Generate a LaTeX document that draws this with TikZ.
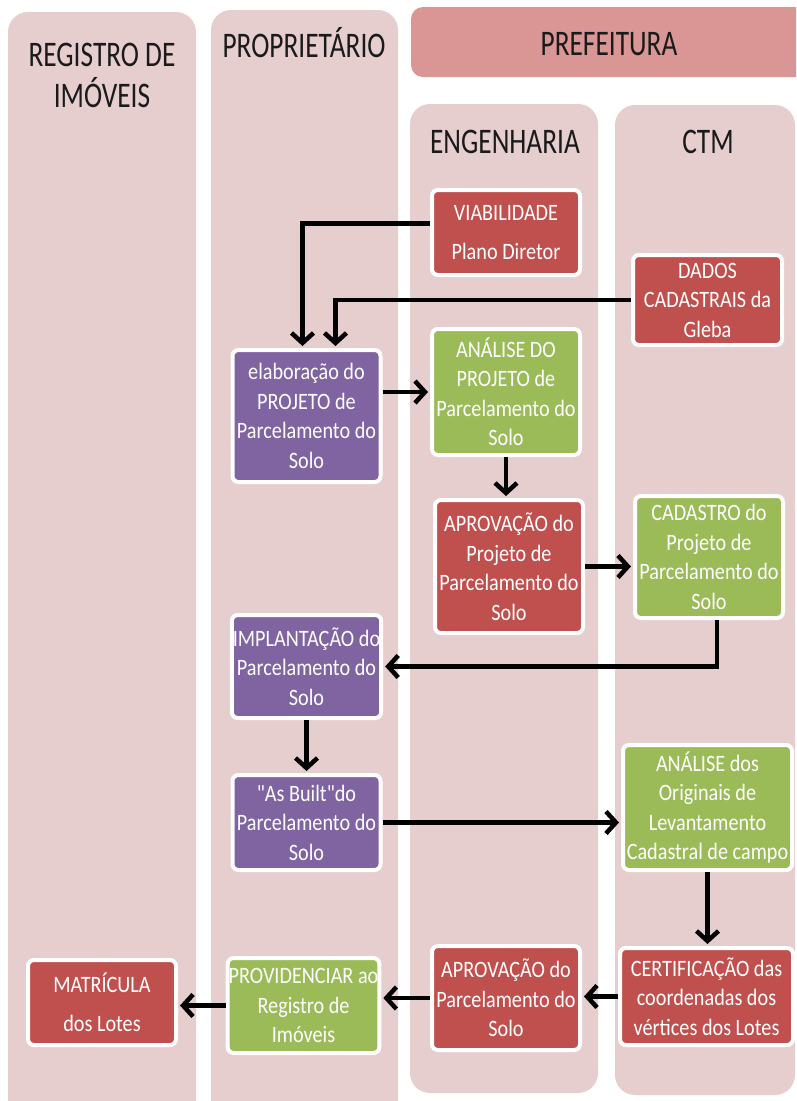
\documentclass[tikz,border=0pt]{standalone}
\usepackage{fontspec}
\setmainfont{Carlito}[FakeStretch=0.86, Ligatures=TeXOff]
\newfontfamily\lanefont{Carlito}[FakeStretch=0.76]
\usepackage{xcolor}
\usetikzlibrary{
    arrows.meta,
    positioning
}

\definecolor{lanepink}{HTML}{E6CECF}
\definecolor{headpink}{HTML}{D99694}
\definecolor{boxred}{HTML}{C0504D}
\definecolor{boxgreen}{HTML}{9BBB59}
\definecolor{boxpurple}{HTML}{8064A2}
\definecolor{headtext}{HTML}{1A1A1A}

\begin{document}
\begin{tikzpicture}[
        x=1pt, y=-1pt,
        lane/.style={
            fill=lanepink,
            rounded corners=20pt
        },
        lanehead/.style={
            text=headtext,
            align=center,
            anchor=base,
            font=\lanefont\fontsize{36}{41}\selectfont
        },
        block/.style={
            rectangle,
            rounded corners=6pt,
            draw=white,
            line width=4pt,
            align=center,
            text=white,
            inner sep=1pt,
            minimum width=148pt,
            font=\fontsize{23.5}{29.5}\selectfont
        },
        redblock/.style={block, fill=boxred},
        greenblock/.style={block, fill=boxgreen},
        purpleblock/.style={block, fill=boxpurple},
        line/.style={
            -{Straight Barb[length=10pt,width=22pt]},
            line width=4.5pt,
            shorten >=2pt
        }
    ]

    \useasboundingbox (0,0) rectangle (796,1101);
    \clip (0,0) rectangle (796,1101);

    % swimlanes
    \fill[lane] (8,12) rectangle (196,1125);
    \fill[lane] (211,10) rectangle (398,1125);
    \fill[headpink, rounded corners=12pt] (411,7) rectangle (830,77);
    \fill[lane] (410,104) rectangle (598,1093);
    \fill[lane] (615,105) rectangle (795,1095);

    \node[lanehead] (registro) at (102,107) {REGISTRO DE\\IMÓVEIS};
    \node[lanehead] (proprietario) at (304,57) {PROPRIETÁRIO};
    \node[lanehead] (prefeitura) at (609,55) {PREFEITURA};
    \node[lanehead] (engenharia) at (505,153) {ENGENHARIA};
    \node[lanehead] (ctm) at (708,153) {CTM};

    % steps
    \node[redblock, minimum height=85pt] (viab) at (506,232.5)
        {VIABILIDADE\\[10pt]Plano Diretor};
    \node[redblock, minimum height=90pt, minimum width=149pt] (dados) at (707.5,300)
        {DADOS\\CADASTRAIS da\\Gleba};
    \node[purpleblock, minimum height=132pt] (elab) at (306.5,416)
        {elaboração do\\PROJETO de\\Parcelamento do\\Solo};
    \node[greenblock, minimum height=126pt] (anal) at (506,392)
        {ANÁLISE DO\\PROJETO de\\Parcelamento do\\Solo};
    \node[redblock, minimum height=133pt] (aprovproj) at (509,566.5)
        {APROVAÇÃO do\\Projeto de\\Parcelamento do\\Solo};
    \node[greenblock, minimum height=122pt] (cadastro) at (709,557)
        {CADASTRO do\\Projeto de\\Parcelamento do\\Solo};
    \node[purpleblock, minimum height=103pt] (implant) at (306.5,666.5)
        {IMPLANTAÇÃO do\\Parcelamento do\\Solo};
    \node[purpleblock, minimum height=95pt, below=53pt of implant] (asbuilt)
        {"As Built"do\\Parcelamento do\\Solo};
    \node[greenblock, minimum height=125pt, minimum width=169pt] (originais) at (707.5,807.5)
        {ANÁLISE dos\\Originais de\\Levantamento\\Cadastral de campo};
    \node[redblock, minimum height=97pt, minimum width=173pt] (certif) at (706.5,996.5)
        {CERTIFICAÇÃO das\\coordenadas dos\\vértices dos Lotes};
    \node[redblock, minimum height=104pt] (aprovparc) at (506,998)
        {APROVAÇÃO do\\Parcelamento do\\Solo};
    \node[greenblock, minimum height=95pt] (provid) at (303.5,1005.5)
        {PROVIDENCIAR ao\\Registro de\\Imóveis};
    \node[redblock, minimum height=85pt] (matric) at (102,1002.5)
        {MATRÍCULA\\[10pt]dos Lotes};

    % flow
    \draw[line] ([yshift=9pt]viab.west) -| ([xshift=-4pt]elab.north);
    \draw[line] (dados.west) -| ([xshift=29pt]elab.north);
    \draw[line] (elab.east |- anal.west) -- (anal.west);
    \draw[line] (anal.south) -- (anal.south |- aprovproj.north);
    \draw[line] (aprovproj.east) -- (aprovproj.east -| cadastro.west);
    \draw[line] ([xshift=8pt]cadastro.south) |- (implant.east);
    \draw[line] (implant.south) -- (asbuilt.north);
    \draw[line] (asbuilt.east) -- (asbuilt.east -| originais.west);
    \draw[line] (originais.south) -- (originais.south |- certif.north);
    \draw[line] (certif.west) -- (certif.west -| aprovparc.east);
    \draw[line] (aprovparc.west) -- (aprovparc.west -| provid.east);
    \draw[line] (provid.west) -- (provid.west -| matric.east);

\end{tikzpicture}
\end{document}
